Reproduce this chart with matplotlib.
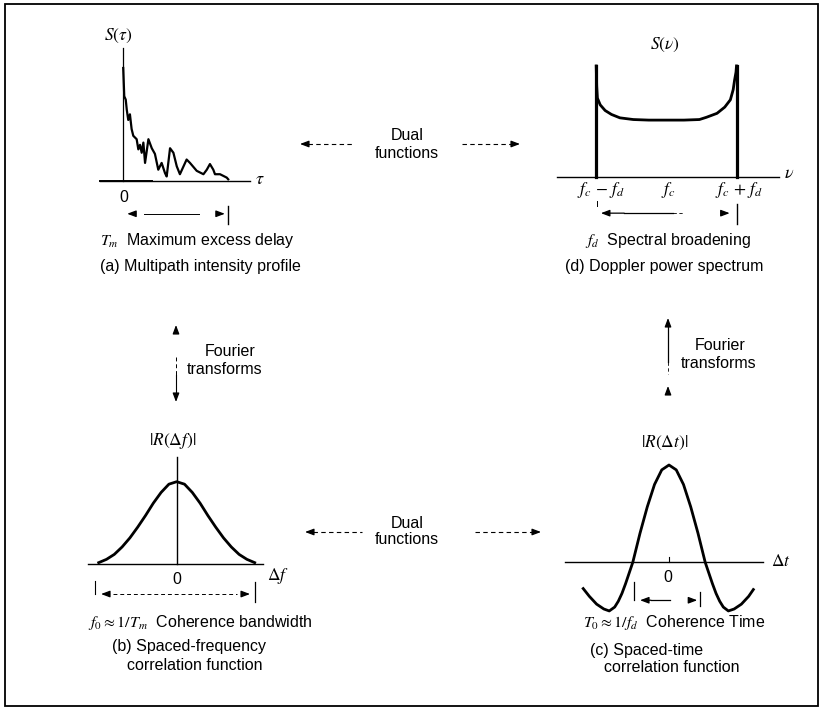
import matplotlib
matplotlib.use('Agg')
from matplotlib import pyplot as plt
from matplotlib.patches import Rectangle

plt.rcParams['font.family'] = ['Liberation Sans', 'DejaVu Sans']
plt.rcParams['mathtext.fontset'] = 'stix'
plt.rcParams['font.size'] = 11.5

W, H = 824, 712

### Data
# (a) multipath intensity profile, delay scaled so that T_m = 5
tau_max = 5.0
tau = [0.01, 0.06, 0.13, 0.18, 0.25, 0.33, 0.41, 0.49, 0.65, 0.73, 0.81, 0.89,
       0.97, 1.05, 1.21, 1.37, 1.52, 1.68, 1.84, 2.00, 2.08, 2.24, 2.40, 2.56,
       2.71, 3.03, 3.19, 3.51, 3.83, 3.99, 4.14, 4.30, 4.38, 4.62, 4.94, 5.01]
s_tau = [1.00, 0.75, 0.72, 0.63, 0.54, 0.59, 0.46, 0.40, 0.37, 0.28, 0.32, 0.25,
         0.34, 0.16, 0.37, 0.29, 0.24, 0.10, 0.16, 0.07, 0.04, 0.29, 0.25, 0.13,
         0.06, 0.19, 0.16, 0.09, 0.06, 0.10, 0.15, 0.10, 0.06, 0.06, 0.03, 0.015]

# (d) Doppler power spectrum, nu = (f - fc) / fd
nu = [-0.997, -0.99, -0.98, -0.94, -0.87, -0.78, -0.66, -0.47, -0.25, 0.0,
      0.25, 0.47, 0.57, 0.72, 0.83, 0.91, 0.95, 0.97, 0.99, 0.997]
s_nu = [1.96, 1.60, 1.39, 1.27, 1.17, 1.10, 1.04, 1.01, 1.00, 1.00,
        1.00, 1.01, 1.05, 1.12, 1.23, 1.36, 1.54, 1.71, 1.85, 1.96]
nu_edge = 1.0
s_edge = 1.96

# (b) spaced-frequency correlation, df in units of f0
df = [-1.0, -0.9, -0.8, -0.7, -0.6, -0.5, -0.4, -0.3, -0.2, -0.1, 0.0,
      0.1, 0.2, 0.3, 0.4, 0.5, 0.6, 0.7, 0.8, 0.9, 1.0]
r_df = [0.02, 0.06, 0.12, 0.21, 0.32, 0.45, 0.59, 0.74, 0.87, 0.97, 1.00,
        0.97, 0.87, 0.74, 0.59, 0.45, 0.32, 0.21, 0.12, 0.06, 0.02]

# (c) spaced-time correlation, dt in units of T0
dt = [-2.37, -2.2, -2.0, -1.8, -1.65, -1.5, -1.4, -1.3, -1.2, -1.1, -1.0,
      -0.8, -0.6, -0.4, -0.2, 0.0, 0.2, 0.4, 0.6, 0.8, 1.0,
      1.1, 1.2, 1.3, 1.4, 1.5, 1.64, 1.8, 2.0, 2.2, 2.33]
r_dt = [-0.27, -0.35, -0.43, -0.48, -0.50, -0.46, -0.40, -0.32, -0.22, -0.11, 0.0,
        0.30, 0.57, 0.80, 0.95, 1.00, 0.95, 0.80, 0.57, 0.30, 0.0,
        -0.11, -0.22, -0.32, -0.40, -0.46, -0.50, -0.48, -0.43, -0.35, -0.28]

### Figure
fig = plt.figure(figsize=(W / 100, H / 100), dpi=100)
ax = fig.add_axes([0, 0, 1, 1])
ax.set_xlim(0, W)
ax.set_ylim(H, 0)
ax.axis('off')
ax.add_patch(Rectangle((5, 4), 813, 702, fill=False, lw=1.3, ec='black'))


def panel(left, top, right, bottom, x0, y0, sx, sy):
    # axes box in pixels, data origin at pixel (x0, y0), sx/sy pixels per unit
    a = fig.add_axes([left / W, 1 - bottom / H, (right - left) / W, (bottom - top) / H])
    a.set_xlim((left - x0) / sx, (right - x0) / sx)
    a.set_ylim((y0 - bottom) / sy, (y0 - top) / sy)
    a.axis('off')
    a.patch.set_visible(False)
    return a


def head(a, tip, tail, lw=0.9):
    a.annotate('', xy=tip, xytext=tail, annotation_clip=False,
               arrowprops=dict(arrowstyle='-|>,head_length=0.45,head_width=0.17',
                               color='black', lw=lw, shrinkA=0, shrinkB=0))


def dash(a, xs, ys, lw=0.8):
    a.plot(xs, ys, color='black', lw=lw, linestyle=(0, (4, 3)), clip_on=False)


### (a) Multipath intensity profile
pa = panel(95, 30, 270, 235, 123, 181, 21.0, 113.0)
pa.plot([-1.1, 6.05], [0, 0], color='black', lw=1.0, clip_on=False)
pa.plot([-1.1, 1.4], [0, 0], color='black', lw=1.4, clip_on=False)
pa.plot([0, 0], [0, 1.18], color='black', lw=0.9, clip_on=False)
pa.plot(tau, s_tau, color='black', lw=1.6, clip_on=False)
row = -0.29
head(pa, (0.2, row), (0.6, row))
pa.plot([1.0, 3.6], [row, row], color='black', lw=0.7, clip_on=False)
head(pa, (tau_max - 0.15, row), (tau_max - 0.55, row))
pa.plot([tau_max, tau_max], [row + 0.07, row - 0.09], color='black', lw=1.0, clip_on=False)

ax.text(118, 36, r'$S(\tau)$', ha='center', va='center', fontsize=12.5)
ax.text(255, 180, r'$\tau$', ha='left', va='center', fontsize=13)
ax.text(124, 197, '0', ha='center', va='center')
ax.text(100, 241, r'$T_m$  Maximum excess delay', ha='left', va='center')
ax.text(100, 267, '(a) Multipath intensity profile', ha='left', va='center')

### (d) Doppler power spectrum
pd = panel(550, 30, 800, 235, 666.35, 176.5, 70.35, 56.4)
pd.plot([-1.56, 1.6], [0, 0], color='black', lw=1.0, clip_on=False)
for x in (-nu_edge, nu_edge):
    pd.plot([x, x], [0, s_edge], color='black', lw=2.3, clip_on=False)
pd.plot(nu, s_nu, color='black', lw=2.0, clip_on=False)
row = -0.65
pd.plot([-0.99, -0.99], [-0.44, -0.52], color='black', lw=0.7, clip_on=False)
head(pd, (-0.93, row), (-0.6, row))
pd.plot([-0.6, 0.1], [row, row], color='black', lw=0.9, clip_on=False)
dash(pd, [0.1, 0.25], [row, row], lw=0.6)
head(pd, (0.9, row), (0.78, row))
pd.plot([1.0, 1.0], [row + 0.17, row - 0.2], color='black', lw=1.0, clip_on=False)

ax.text(665, 45, r'$S(\nu)$', ha='center', va='center', fontsize=12.5)
ax.text(784, 174, r'$\nu$', ha='left', va='center', fontsize=13)
ax.text(601, 190, r'$f_c\,-\,f_d$', ha='center', va='center', fontsize=12.5)
ax.text(668, 190, r'$f_c$', ha='center', va='center', fontsize=12.5)
ax.text(739, 190, r'$f_c\,+\,f_d$', ha='center', va='center', fontsize=12.5)
ax.text(585, 241, r'$f_d$  Spectral broadening', ha='left', va='center')
ax.text(565, 267, '(d) Doppler power spectrum', ha='left', va='center')

### (b) Spaced-frequency correlation function
pb = panel(80, 425, 290, 610, 176.7, 564.3, 78.0, 82.6)
pb.plot([-1.14, 1.11], [0, 0], color='black', lw=1.0, clip_on=False)
pb.plot([0, 0], [0, 1.30], color='black', lw=1.0, clip_on=False)
pb.plot(df, r_df, color='black', lw=2.0, clip_on=False)
row = -0.36
pb.plot([-1.05, -1.05], [-0.2, row], color='black', lw=0.8, clip_on=False)
head(pb, (-0.97, row), (-0.86, row))
dash(pb, [-0.82, 0.77], [row, row], lw=0.7)
head(pb, (0.94, row), (0.83, row))
pb.plot([1.0, 1.0], [-0.22, -0.46], color='black', lw=0.9, clip_on=False)

ax.text(173, 441, r'$|R(\Delta f)|$', ha='center', va='center', fontsize=12.5)
ax.text(267, 576, r'$\Delta f$', ha='left', va='center', fontsize=12.5)
ax.text(177, 580, '0', ha='center', va='center')
ax.text(88, 622, r'$f_0 \approx 1/T_m$  Coherence bandwidth', ha='left', va='center')
ax.text(112, 646, '(b) Spaced-frequency', ha='left', va='center')
ax.text(127, 666, 'correlation function', ha='left', va='center')

### (c) Spaced-time correlation function
pc = panel(560, 425, 800, 615, 669.0, 562.3, 36.2, 97.3)
pc.plot([-2.87, 2.6], [0, 0], color='black', lw=1.0, clip_on=False)
pc.plot([0, 0], [0, 0.05], color='black', lw=0.8, clip_on=False)
pc.plot(dt, r_dt, color='black', lw=2.0, clip_on=False)
row = -0.39
pc.plot([-0.96, -0.96], [-0.2, row], color='black', lw=0.9, clip_on=False)
head(pc, (-0.8, row), (-0.5, row))
pc.plot([-0.5, 0.03], [row, row], color='black', lw=0.9, clip_on=False)
head(pc, (0.78, row), (0.64, row))
pc.plot([0.86, 0.86], [-0.31, -0.45], color='black', lw=0.9, clip_on=False)

ax.text(665, 443, r'$|R(\Delta t)|$', ha='center', va='center', fontsize=12.5)
ax.text(771, 561, r'$\Delta t$', ha='left', va='center', fontsize=12.5)
ax.text(668, 577, '0', ha='center', va='center')
ax.text(583, 623, r'$T_0 \approx 1/f_d$  Coherence Time', ha='left', va='center')
ax.text(590, 650, '(c) Spaced-time', ha='left', va='center')
ax.text(604, 668, 'correlation function', ha='left', va='center')

### Connectors between panels
# dual functions, top and bottom
for y_txt, y_arr, l_end, l_start, r_start, r_end in [(136, 144, 300, 352, 462, 520),
                                                     (523, 532, 305, 362, 475, 541)]:
    ax.text(407, y_txt, 'Dual', ha='center', va='center')
    ax.text(407, y_txt + 17, 'functions', ha='center', va='center')
    head(ax, (l_end, y_arr), (l_end + 7, y_arr))
    dash(ax, [l_end + 8, l_start], [y_arr, y_arr])
    dash(ax, [r_start, r_end - 7], [y_arr, y_arr])
    head(ax, (r_end, y_arr), (r_end - 7, y_arr))

# Fourier transforms, left
head(ax, (176, 325), (176, 333))
dash(ax, [176, 176], [357, 375], lw=0.7)
ax.plot([176, 176], [375, 396], color='black', lw=0.8)
head(ax, (176, 402), (176, 395))
ax.text(205, 351, 'Fourier', ha='left', va='center')
ax.text(187, 369, 'transforms', ha='left', va='center')

# Fourier transforms, right
head(ax, (668, 318), (668, 326))
ax.plot([668, 668], [326, 362], color='black', lw=0.9)
dash(ax, [668, 668], [362, 374], lw=0.6)
head(ax, (668, 386), (668, 392))
ax.text(695, 346, 'Fourier', ha='left', va='center')
ax.text(681, 364, 'transforms', ha='left', va='center')

plt.savefig('out.png', dpi=100)
